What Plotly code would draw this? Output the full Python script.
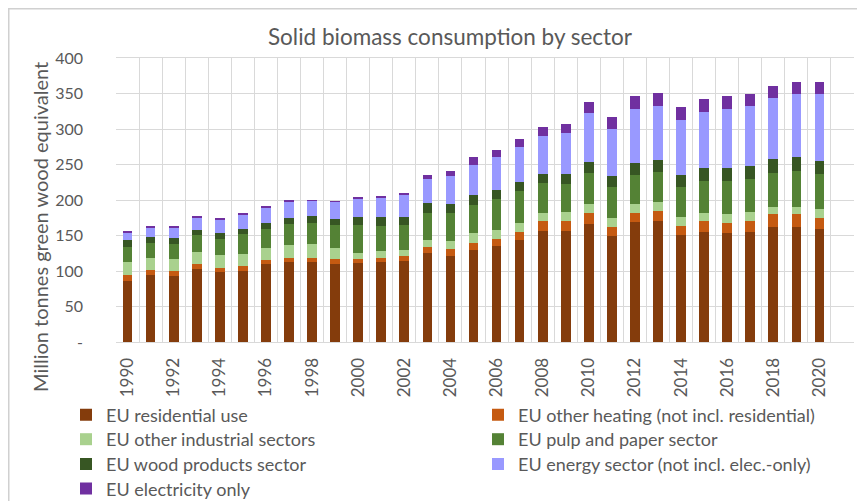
import plotly.graph_objects as go

years = list(range(1990, 2021))

residential = [86, 94, 93, 103, 98, 100, 110, 112.5, 112.5, 109.5, 111.5, 113, 114.5, 125.7, 121, 129.5,
               135.5, 143.5, 156.7, 156.7, 166.5, 149, 168.4, 171, 151, 155, 153, 155, 162, 162, 158.5]
other_heating = [8, 7, 7, 7, 6, 6.5, 6, 6.5, 6.5, 7.5, 6, 6, 6.5, 8, 10, 10.5, 9.5, 11.5, 13.3, 13.3,
                 14.5, 13, 14, 14, 12.7, 15.7, 15, 15.7, 17.6, 17.6, 15.5]
other_industrial = [18, 17, 17, 17, 18, 17.5, 16, 18, 19, 15, 8.5, 9, 8, 10, 11, 13, 13, 13, 11, 13,
                    13, 13, 11.5, 11.5, 12.3, 11.3, 12.6, 11.8, 10.8, 10.8, 12.7]
pulp_paper = [22, 22, 21, 24, 23, 28, 27, 29, 30, 33, 38.5, 36, 36.5, 37.5, 40, 40, 44, 45, 43, 40,
              44, 43.6, 42, 43, 42.6, 45, 46, 47.5, 48.3, 50.6, 50.6]
wood_products = [9, 8, 8, 7, 9, 7.5, 9, 9, 9, 8.5, 11, 11.5, 11, 14, 13, 14, 12, 12.6, 13, 14,
                 15.7, 15.4, 16, 17, 16.4, 18, 18.5, 17.6, 19.7, 19, 17.7]
energy_sector = [11, 13, 15, 18, 19, 20, 22, 22.5, 22, 24, 27, 28.5, 31, 35, 38.6, 43, 46, 48.4, 53, 57.6,
                 68.3, 66, 76.8, 75.5, 78, 79.6, 82.4, 85.4, 84.6, 90, 94]
electricity_only = [2, 2, 2, 1, 1.5, 1.5, 2, 1.5, 1, 1, 1, 1, 2.5, 4.7, 7.5, 10, 10, 12, 13, 13,
                    15.7, 17, 17.2, 19.3, 18.6, 17, 18.3, 17, 18, 16.8, 17.8]

series_names = ["EU residential use", "EU other heating (not incl. residential)",
                "EU other industrial sectors", "EU pulp and paper sector",
                "EU wood products sector", "EU energy sector (not incl. elec.-only)",
                "EU electricity only"]
series_values = [residential, other_heating, other_industrial, pulp_paper,
                 wood_products, energy_sector, electricity_only]
series_colors = ["#843C0C", "#C55A11", "#A9D18E", "#548235", "#375623", "#9999FF", "#7030A0"]

y_tickvals = [0, 50, 100, 150, 200, 250, 300, 350, 400]
y_ticktext = ["-", "50", "100", "150", "200", "250", "300", "350", "400"]
x_tickvals = list(range(1990, 2021, 2))

FONT = "Lato, Open Sans, sans-serif"
GRAY = "#595959"
GRID = "#D9D9D9"

# the page body has an 8px margin, so the figure is drawn 8px in from the window edge
OFF = 8
W, H = 865 - OFF, 501 - OFF
PLOT_L, PLOT_R, PLOT_T, PLOT_B = 116, 854, 58, 342      # plot area in window pixels
AXIS_X = 83                                              # y-axis label anchor in window pixels
L = AXIS_X - OFF
R = W - (PLOT_R - OFF)
T = PLOT_T - OFF
B = H - (PLOT_B - OFF)
pw, ph = W - L - R, H - T - B
x_domain_start = (PLOT_L - AXIS_X) / pw


def px_x(x):
    return (x - OFF - L) / pw


def px_y(y):
    return (H - B - (y - OFF)) / ph


legend_cols = [66, 478]
legend_rows = [415, 439.5, 464.3, 488.8]

fig = go.Figure()
legend_layouts = {}
for i, (name, vals, col) in enumerate(zip(series_names, series_values, series_colors)):
    lid = "legend" if i == 0 else f"legend{i + 1}"
    fig.add_trace(go.Bar(x=years, y=vals, name=name, marker=dict(color=col, line=dict(width=0)),
                         width=0.42, legend=lid))
    legend_layouts[lid] = dict(x=px_x(legend_cols[i % 2]), xanchor="left",
                               y=px_y(legend_rows[i // 2]), yanchor="middle",
                               orientation="h", font=dict(size=18, color=GRAY, family=FONT),
                               bgcolor="rgba(0,0,0,0)", borderwidth=0)

fig.update_layout(
    width=W, height=H,
    margin=dict(l=L, r=R, t=T, b=B, pad=0, autoexpand=False),
    barmode="stack",
    paper_bgcolor="white", plot_bgcolor="white",
    font=dict(family=FONT, color=GRAY, size=16),
    title=dict(text="Solid biomass consumption by sector", font=dict(size=22.5, color=GRAY, family=FONT),
               xref="paper", x=px_x(450), xanchor="center", yref="container",
               y=1 - (37 - OFF) / H, yanchor="middle"),
    xaxis=dict(domain=[x_domain_start, 1], range=[1989.5, 2021.5], tickvals=x_tickvals, tickangle=-90,
               showgrid=False, zeroline=False, showline=True, mirror=True, linecolor=GRID, linewidth=1,
               tickfont=dict(size=17, color=GRAY), ticks="outside", ticklen=8,
               tickcolor="rgba(0,0,0,0)", automargin=False,
               minor=dict(tickvals=[1989.5 + i for i in range(33)], showgrid=True,
                          gridcolor=GRID, gridwidth=1, ticks="")),
    yaxis=dict(anchor="free", position=0, range=[0, 400], tickvals=y_tickvals, ticktext=y_ticktext,
               showgrid=True, gridcolor=GRID, gridwidth=1, zeroline=False, showline=False,
               ticks="", tickfont=dict(size=16, color=GRAY), automargin=False),
    showlegend=True,
    annotations=[dict(text="Million tonnes green wood equivalent", textangle=-90, showarrow=False,
                      xref="paper", yref="paper", x=px_x(40), y=px_y(227),
                      xanchor="center", yanchor="middle", font=dict(size=20, color=GRAY, family=FONT))],
    shapes=[dict(type="rect", xref="paper", yref="paper", x0=px_x(OFF + 0.75), x1=px_x(900),
                 y0=px_y(OFF + 0.75), y1=px_y(700), line=dict(color="#D0D0D0", width=1.5), layer="below")],
    **legend_layouts,
)

fig.write_html("out.html")
